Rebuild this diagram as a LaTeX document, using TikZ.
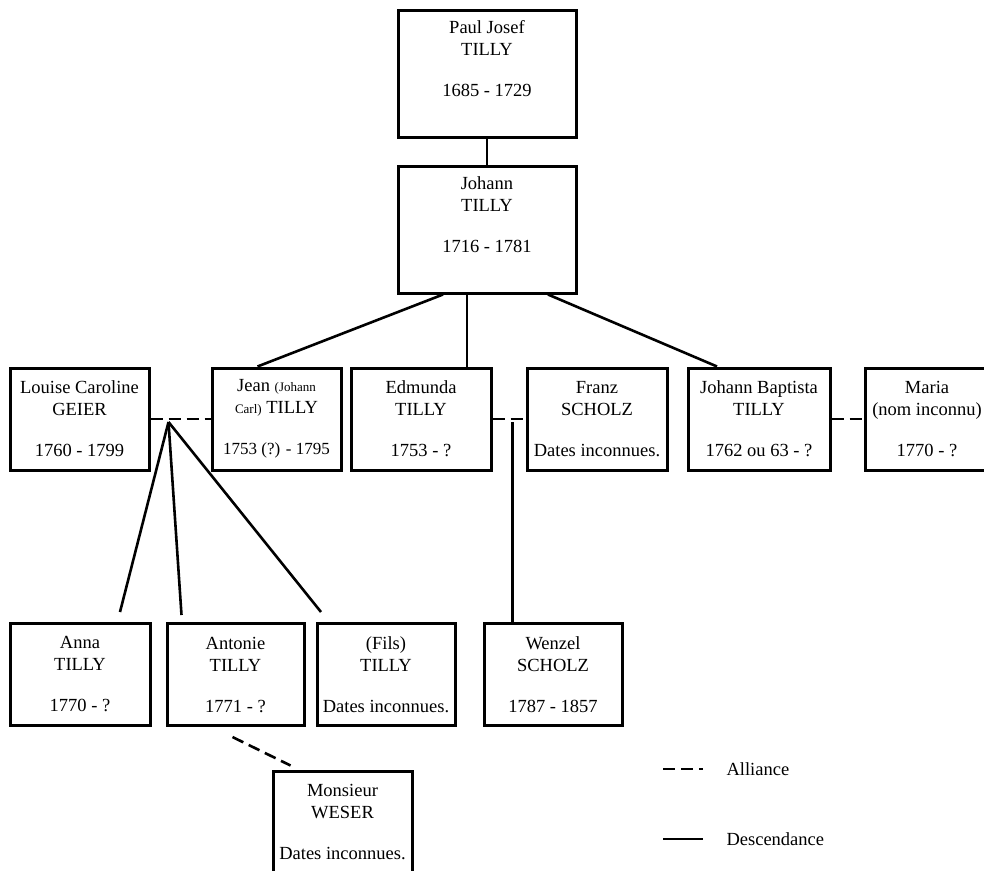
\documentclass[tikz,border=0pt]{standalone}
\usepackage{fontspec}
\setmainfont{Liberation Serif}
\usepackage{tikz}
\usetikzlibrary{positioning, calc}

\newcommand{\boxfont}{\fontsize{18.5}{22}\selectfont}
\newcommand{\aside}[1]{{\fontsize{13}{15}\selectfont #1}}
\newcommand{\tallbox}{\rule[-30pt]{0pt}{0pt}}

\begin{document}
\begin{tikzpicture}[
  x=1pt, y=-1pt,
  person/.style={draw, line width=3pt, align=center, minimum width=139pt, minimum height=102pt, inner sep=2pt, font=\boxfont},
  elder/.style={person, minimum width=178pt, minimum height=127pt},
  descent/.style={line width=2.6pt},
  alliance/.style={line width=2.6pt, dash pattern=on 12pt off 6pt},
  legendtext/.style={anchor=west, font=\boxfont}
]
  \useasboundingbox (0,0) rectangle (984,870);

  % ancestors
  \node[elder] (paul) at (487,73.5) {Paul Josef\\TILLY\\[19pt]1685 - 1729\tallbox};
  \node[elder, below=26pt of paul] (johann) {Johann\\TILLY\\[19pt]1716 - 1781\tallbox};

  % children of Johann and their spouses
  \node[person] (louise) at (79.5,419) {Louise Caroline\\GEIER\\[19pt]1760 - 1799};
  \node[person, right=60pt of louise, minimum width=129pt] (jean) {Jean \aside{(Johann}\\\aside{Carl)} TILLY\\[19pt]{\fontsize{17}{22}\selectfont 1753 (?) - 1795}};
  \node[person, right=7pt of jean, minimum width=140pt] (edmunda) {Edmunda\\TILLY\\[19pt]1753 - ?};
  \node[person, right=33pt of edmunda, minimum width=140pt] (franz) {Franz\\SCHOLZ\\[19pt]Dates inconnues.};
  \node[person, right=18pt of franz, minimum width=142pt] (baptista) {Johann Baptista\\TILLY\\[19pt]1762 ou 63 - ?};
  \node[person, right=32pt of baptista, minimum width=124pt] (maria) {Maria\\(nom inconnu)\\[19pt]1770 - ?};

  % grandchildren
  \node[person, minimum width=140pt] (anna) at (80,674.5) {Anna\\TILLY\\[19pt]1770 - ?};
  \node[person, right=14pt of anna, minimum width=137pt] (antonie) {Antonie\\TILLY\\[19pt]1771 - ?};
  \node[person, right=10pt of antonie, minimum width=138pt] (fils) {(Fils)\\TILLY\\[19pt]Dates inconnues.};
  \node[person, right=26pt of fils, minimum width=138pt] (wenzel) {Wenzel\\SCHOLZ\\[19pt]1787 - 1857};
  \node[person] (weser) at (342.5,822) {Monsieur\\WESER\\[19pt]Dates inconnues.};

  % marriage points
  \coordinate (m1) at ($(louise.east)!0.3!(jean.west)$);
  \coordinate (m2) at ($(edmunda.east)!0.6!(franz.west)$);

  % descent
  \draw[descent] (paul) -- (johann);
  \draw[descent] ([xshift=-44pt]johann.south) -- ([xshift=-19pt]jean.north);
  \draw[descent] ([xshift=-20pt]johann.south) -- ([xshift=46pt]edmunda.north);
  \draw[descent] ([xshift=61pt]johann.south) -- ([xshift=-42pt]baptista.north);
  \draw[descent] ([yshift=-3pt]m1) -- ([xshift=40pt,yshift=10pt]anna.north);
  \draw[descent] ([yshift=-3pt]m1) -- ([xshift=-54pt,yshift=7pt]antonie.north);
  \draw[descent] ([yshift=-3pt]m1) -- ([xshift=-65pt,yshift=10pt]fils.north);
  \draw[descent] ([yshift=-3pt]m2) -- (m2 |- wenzel.north);

  % alliances
  \draw[alliance] (louise.east) -- (jean.west);
  \draw[alliance] (edmunda.east) -- (franz.west);
  \draw[alliance] (baptista.east) -- (maria.west);
  \draw[alliance] ([xshift=-3pt,yshift=-10pt]antonie.south) -- ([xshift=19pt,yshift=4pt]weser.north west);

  % legend
  \node[legendtext] (legA) at (723,769) {Alliance};
  \node[legendtext] (legD) at (723,839) {Descendance};
  \draw[alliance] ([xshift=-60pt]legA.west) -- ([xshift=-20pt]legA.west);
  \draw[descent] ([xshift=-60pt]legD.west) -- ([xshift=-20pt]legD.west);
\end{tikzpicture}
\end{document}
